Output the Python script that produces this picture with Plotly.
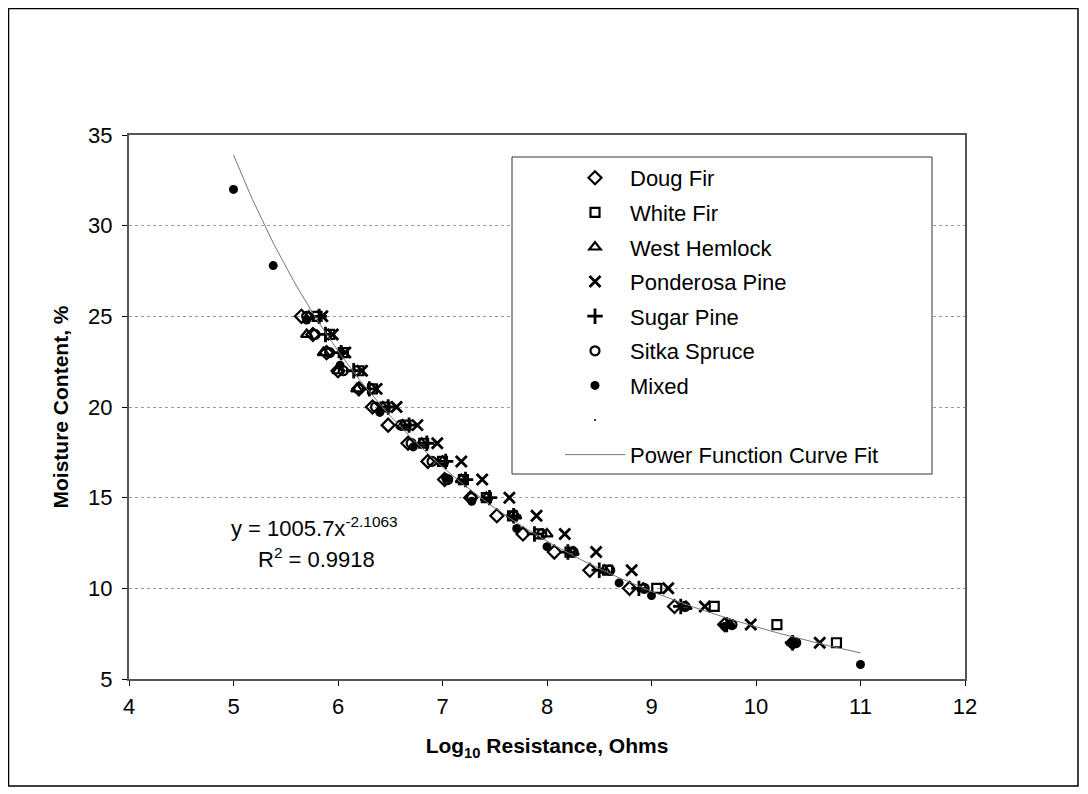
import numpy as np
import plotly.graph_objects as go

# ---- Data (log10 resistance, moisture content %) ----
mc_levels = [25, 24, 23, 22, 21, 20, 19, 18, 17, 16, 15, 14, 13, 12, 11, 10, 9, 8, 7]

doug_fir_x = [5.65, 5.76, 5.89, 6.00, 6.20, 6.33, 6.48, 6.67, 6.86, 7.02, 7.27, 7.52, 7.77, 8.07, 8.41, 8.79, 9.22, 9.70, 10.35]
white_fir_x = [5.80, 5.92, 6.05, 6.20, 6.33, 6.45, 6.65, 6.82, 7.00, 7.20, 7.42, 7.67, 7.92, 8.22, 8.58, 9.05, 9.60, 10.20, 10.77]
west_hemlock_x = [5.72, 5.70, 5.86, 6.00, 6.18, 6.43, 6.62, 6.80, 7.00, 7.18, 7.42, 7.70, 8.00, 8.25, 8.55, 8.92, 9.33, 9.75, 10.35]
ponderosa_x = [5.85, 5.95, 6.07, 6.23, 6.37, 6.56, 6.76, 6.95, 7.18, 7.38, 7.64, 7.90, 8.17, 8.47, 8.81, 9.16, 9.51, 9.95, 10.61]
sugar_pine_x = [5.82, 5.88, 6.03, 6.15, 6.30, 6.48, 6.68, 6.85, 7.03, 7.22, 7.45, 7.68, 7.88, 8.20, 8.50, 8.88, 9.28, 9.72, 10.35]
sitka_x = [5.70, 5.78, 5.92, 6.05, 6.20, 6.36, 6.60, 6.70, 6.90, 7.05, 7.28, 7.68, 7.95, 8.25, 8.60, 8.93, 9.32, 9.77, 10.38]

mixed_x = [5.00, 5.38, 5.70, 6.02, 6.40, 6.72, 7.03, 7.28, 7.71, 8.00, 8.69, 9.00, 9.70, 10.35, 11.00]
mixed_y = [32.0, 27.8, 24.8, 22.3, 19.7, 17.8, 16.1, 14.8, 13.3, 12.3, 10.3, 9.6, 7.9, 6.9, 5.8]

# Power function fit shown on the chart: y = 1005.7 x^-2.1063
fit_a = 1005.7
fit_b = -2.1063
fit_x_range = [5.0, 11.0]

x_ticks = [4, 5, 6, 7, 8, 9, 10, 11, 12]
y_ticks = [5, 10, 15, 20, 25, 30, 35]

FONT = "Liberation Sans, Arial, sans-serif"

fig = go.Figure()

series = [
    ("Doug Fir", doug_fir_x, "diamond-open", 10, 2.2),
    ("White Fir", white_fir_x, "square-open", 9, 2.2),
    ("West Hemlock", west_hemlock_x, "triangle-up-open", 10, 2.2),
    ("Ponderosa Pine", ponderosa_x, "x-thin-open", 11, 2.8),
    ("Sugar Pine", sugar_pine_x, "cross-thin-open", 11, 2.8),
    ("Sitka Spruce", sitka_x, "circle-open", 9, 2.2),
]
for i, (name, xs, sym, size, lw) in enumerate(series):
    fig.add_trace(go.Scatter(
        x=xs, y=mc_levels, mode="markers", name=name, legendgroup=f"g{i}",
        marker=dict(symbol=sym, size=size, color="black", line=dict(color="black", width=lw)),
    ))

fig.add_trace(go.Scatter(
    x=mixed_x, y=mixed_y, mode="markers", name="Mixed", legendgroup="g6",
    marker=dict(symbol="circle", size=9, color="black"),
))

# empty series entry (tiny dot in legend)
fig.add_trace(go.Scatter(
    x=[None], y=[None], mode="markers", name=" ", legendgroup="g7",
    marker=dict(symbol="circle", size=2, color="black"),
))

fx = np.linspace(fit_x_range[0], fit_x_range[1], 200)
fy = fit_a * fx ** fit_b
fig.add_trace(go.Scatter(
    x=fx, y=fy, mode="lines", name="Power Function Curve Fit", legendgroup="g8",
    line=dict(color="#777777", width=1),
))

# plot area geometry in page px (the figure div sits 8px in from the page edge)
OFF = 8
L, R, T, B = 129, 965, 135, 679
W, H = 1080, 786
pw, ph = R - L, B - T

def px_to_paper_x(px):
    return (px - L) / pw

def px_to_paper_y(py):
    return (B - py) / ph

# outer chart border
fig.add_shape(type="rect", xref="paper", yref="paper",
              x0=px_to_paper_x(8.5), x1=px_to_paper_x(1078),
              y0=px_to_paper_y(786), y1=px_to_paper_y(8.5),
              line=dict(color="black", width=1.5), layer="below")

# legend box
fig.add_shape(type="rect", xref="paper", yref="paper",
              x0=px_to_paper_x(512), x1=px_to_paper_x(932),
              y0=px_to_paper_y(474), y1=px_to_paper_y(157),
              line=dict(color="#333333", width=1), fillcolor="white", layer="above")

fig.add_annotation(x=px_to_paper_x(314), y=px_to_paper_y(527), xref="paper", yref="paper",
                   xanchor="center", yanchor="middle",
                   text="y = 1005.7x<sup>-2.1063</sup>", showarrow=False,
                   font=dict(family=FONT, size=22, color="black"))
fig.add_annotation(x=px_to_paper_x(316), y=px_to_paper_y(558), xref="paper", yref="paper",
                   xanchor="center", yanchor="middle",
                   text="R<sup>2</sup> = 0.9918", showarrow=False,
                   font=dict(family=FONT, size=22, color="black"))

fig.update_layout(
    width=W, height=H,
    margin=dict(l=L - OFF, r=W - (R - OFF), t=T - OFF, b=H - (B - OFF)),
    paper_bgcolor="white", plot_bgcolor="white",
    font=dict(family=FONT, size=22, color="black"),
    showlegend=True,
    legend=dict(
        x=px_to_paper_x(560), y=px_to_paper_y(157), xanchor="left", yanchor="top",
        borderwidth=0, bgcolor="rgba(0,0,0,0)",
        font=dict(family=FONT, size=22, color="black"),
        tracegroupgap=3, itemwidth=60,
    ),
    xaxis=dict(
        range=[4, 12], tickvals=x_ticks, ticks="outside", ticklen=5, tickcolor="black",
        showgrid=False, zeroline=False, showline=True, linecolor="#555555", linewidth=2,
        mirror=True, tickfont=dict(size=22), ticklabelstandoff=2,
        title=dict(text="<b>Log<sub>10</sub> Resistance, Ohms</b>", font=dict(size=21), standoff=20),
    ),
    yaxis=dict(
        range=[5, 35], tickvals=y_ticks, ticks="outside", ticklen=5, tickcolor="black",
        showgrid=True, gridcolor="#9a9a9a", gridwidth=1, griddash="dot",
        zeroline=False, showline=True, linecolor="#555555", linewidth=2,
        mirror=True, tickfont=dict(size=22), ticklabelstandoff=5,
        title=dict(text="<b>Moisture Content, %</b>", font=dict(size=21), standoff=14),
    ),
)

fig.write_html("out.html")
